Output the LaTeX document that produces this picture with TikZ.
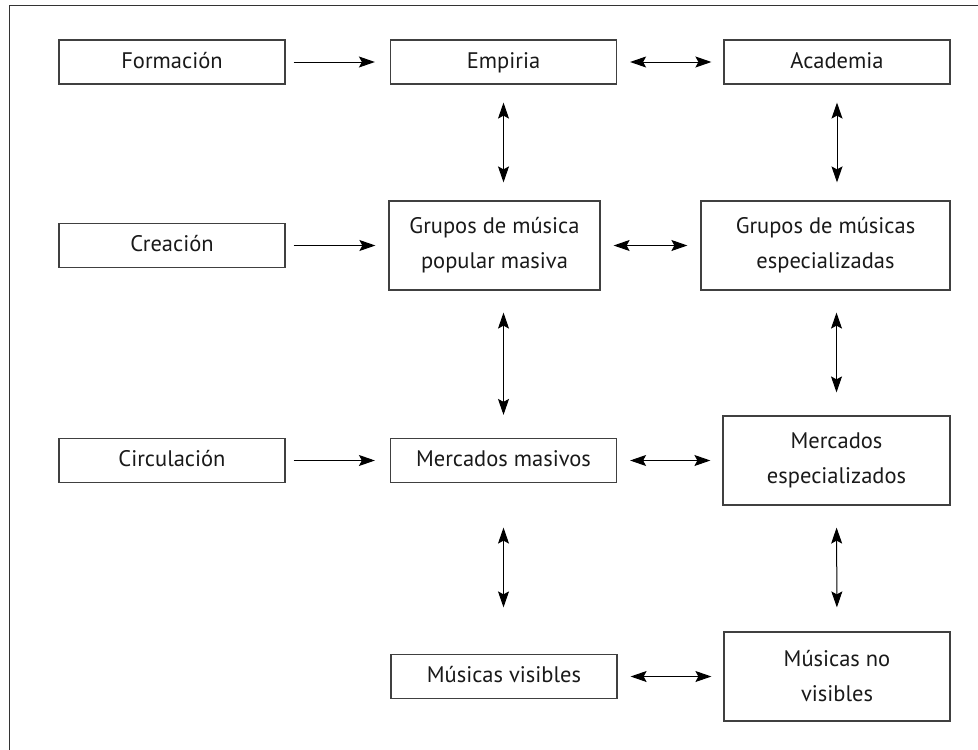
\documentclass[tikz,border=0pt]{standalone}
\usepackage{fontspec}
\setmainfont{PT Sans}
\usetikzlibrary{arrows.meta}

\begin{document}
\begin{tikzpicture}[x=1pt, y=-1pt,
  box/.style = {draw=black!75, line width=1.2pt, minimum height=44pt, inner sep=0pt,
    align=center, text=black!90, font=\fontsize{22.5}{35}\selectfont},
  wide/.style = {box, minimum width=226pt, text height=16pt, text depth=3.5pt},
  tall/.style = {box, minimum height=89pt},
  link/.style = {line width=1pt, -{Stealth[length=16pt, width=11pt, inset=3pt]}},
  both/.style = {line width=1pt, {Stealth[length=16pt, width=11pt, inset=3pt]}-{Stealth[length=16pt, width=11pt, inset=3pt]}}]
  \useasboundingbox (0,0) rectangle (978,750);
  \draw[line width=0.8pt, black!80] (9,750) -- (9,5) -- (978,5);

  \node[wide] (form) at (172,62) {Formación};
  \node[wide] (emp) at (503.5,62) {Empiria};
  \node[wide] (acad) at (837,62) {Academia};
  \node[wide] (crea) at (172,245.5) {Creación};
  \node[tall, minimum width=211pt] (gpm) at (494.5,245.5) {Grupos de música\\popular masiva};
  \node[tall, minimum width=249pt] (gme) at (825.5,245.5) {Grupos de músicas\\especializadas};
  \node[wide] (circ) at (172,460.5) {Circulación};
  \node[wide] (mm) at (503.5,460.5) {Mercados masivos};
  \node[tall, minimum width=227pt] (me) at (836.5,460.5) {Mercados\\especializados};
  \node[wide] (mv) at (504,676.5) {Músicas visibles};
  \node[tall, minimum width=226pt] (mnv) at (837,676.5) {Músicas no\\visibles};

  \draw[link, shorten <=8pt, shorten >=15pt] (form) -- (emp);
  \draw[link, shorten <=8pt, shorten >=13pt] (crea) -- (gpm);
  \draw[link, shorten <=8pt, shorten >=15pt] (circ) -- (mm);

  \draw[both, shorten <=13pt, shorten >=12pt] (emp) -- (acad);
  \draw[both, shorten <=13pt, shorten >=13pt] (gpm) -- (gme);
  \draw[both, shorten <=13pt, shorten >=12pt] (mm) -- (me);
  \draw[both, shorten <=13pt, shorten >=12pt] (mv) -- (mnv);

  \draw[both, shorten <=18pt, shorten >=18pt] (emp.south) -- (emp.south |- gpm.north);
  \draw[both, shorten <=18pt, shorten >=18pt] (acad.south) -- (acad.south |- gme.north);
  \draw[both, shorten <=22pt, shorten >=23pt] (mm.north |- gpm.south) -- (mm.north);
  \draw[both, shorten <=22pt, shorten >=23pt] (me.north |- gme.south) -- (me.north);
  \draw[both, shorten <=22pt, shorten >=24pt] (me.south -| mm) -- (mnv.north -| mm);
  \draw[both, shorten <=22pt, shorten >=24pt] (me.south) -- (mnv.north);
\end{tikzpicture}
\end{document}
